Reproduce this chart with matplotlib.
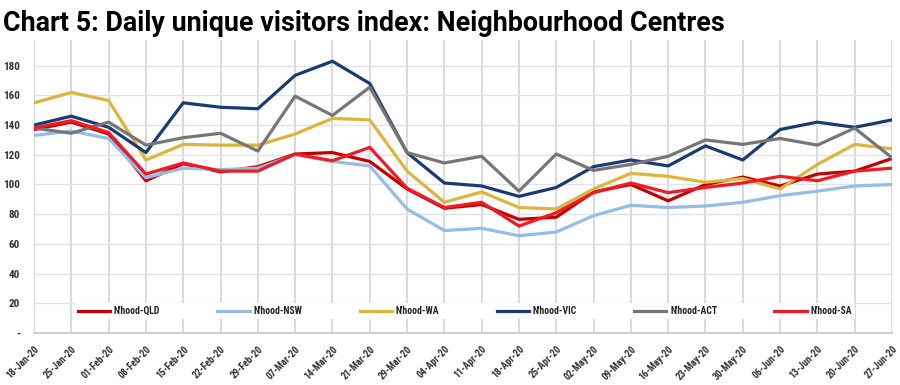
import matplotlib
matplotlib.use("Agg")
import matplotlib.pyplot as plt
from matplotlib import font_manager

dates = ["18-Jan-20", "25-Jan-20", "01-Feb-20", "08-Feb-20", "15-Feb-20", "22-Feb-20",
         "29-Feb-20", "07-Mar-20", "14-Mar-20", "21-Mar-20", "29-Mar-20", "04-Apr-20",
         "11-Apr-20", "18-Apr-20", "25-Apr-20", "02-May-20", "09-May-20", "16-May-20",
         "23-May-20", "30-May-20", "06-Jun-20", "13-Jun-20", "20-Jun-20", "27-Jun-20"]

qld = [137, 142, 134, 102.5, 114, 108.5, 112, 120.5, 121.5, 115.5, 97, 84, 86.5, 76.5,
       78, 95, 100, 89, 100, 105, 99, 107, 109, 117.5]
nsw = [133, 136, 131, 104.5, 111, 110, 111, 120, 115.5, 112.5, 83.5, 69, 70.5, 65.5,
       68, 79, 86, 84.5, 85.5, 88, 92.5, 95.5, 99, 100]
wa = [155, 162, 156.5, 116.5, 127, 126.5, 126.5, 134, 144.5, 143.5, 109, 88, 95, 84.5,
      83.5, 97, 107.5, 105.5, 101.5, 104, 97, 113.5, 127, 124]
vic = [140, 146, 138.5, 121.5, 155, 152, 151, 173.5, 183, 168, 121.5, 101, 99, 92,
       98, 112, 116.5, 112.5, 126, 116.5, 137, 142, 138.5, 143.5]
act = [138, 134.5, 142, 126.5, 131.5, 134.5, 122.5, 159.5, 146.5, 165.5, 121.5, 114.5, 119,
       95.5, 120.5, 109.5, 113.5, 119, 130, 127, 131, 126.5, 138, 118]
sa = [138, 143, 135, 107, 114.5, 109, 109, 120.5, 116, 125, 97.5, 84.5, 88, 72,
      81, 94.5, 101, 94.5, 98, 101, 105.5, 102.5, 109, 111]

series = [("N'hood-QLD", qld, "#C00000"),
          ("N'hood-NSW", nsw, "#95BDE6"),
          ("N'hood-WA", wa, "#DDB43C"),
          ("N'hood-VIC", vic, "#1B3A73"),
          ("N'hood-ACT", act, "#767676"),
          ("N'hood-SA", sa, "#EE1C25")]

yticks = [0, 20, 40, 60, 80, 100, 120, 140, 160, 180]
ytick_labels = ["-"] + [str(v) for v in yticks[1:]]
title = "Chart 5: Daily unique visitors index: Neighbourhood Centres"

names = {f.name for f in font_manager.fontManager.ttflist}
narrow = "Liberation Sans"
for cand in ["Liberation Sans Narrow", "Roboto Condensed", "Arial Narrow", "Roboto"]:
    if cand in names:
        narrow = cand
        break
title_font = "Roboto" if "Roboto" in names else narrow

fig = plt.figure(figsize=(9, 3.85), dpi=100)
ax = fig.add_axes([34 / 900, 1 - 333 / 385, (892 - 34) / 900, (333 - 40) / 385])

x = list(range(len(dates)))
for name, vals, col in series:
    ax.plot(x, vals, color=col, lw=2.3, label=name, solid_joinstyle="round", zorder=3)

ax.set_xlim(0, len(dates) - 1)
ax.set_ylim(0, 197.3)
ax.set_yticks(yticks)
ax.set_yticklabels(ytick_labels, fontsize=8, color="#333333", fontweight="bold", family=narrow)
ax.set_xticks(x)
ax.set_xticklabels(dates, rotation=45, ha="right", va="top", rotation_mode="anchor",
                   fontsize=7, color="#333333", family=narrow, fontweight="bold")
ax.tick_params(axis="y", length=0, pad=10)
ax.tick_params(axis="x", length=0, pad=8)

ax.grid(True, axis="x", color="#d9d9d9", lw=1.4, zorder=0)
ax.grid(True, axis="y", color="#dfe3ea", lw=1.0, zorder=0)
ax.set_axisbelow(True)
for s in ["top", "right", "left"]:
    ax.spines[s].set_visible(False)
ax.spines["bottom"].set_color("#c8c8c8")
ax.spines["bottom"].set_linewidth(1.2)

leg = fig.legend(loc="lower left", bbox_to_anchor=(75 / 900, 1 - 319 / 385, 780 / 900, 24 / 385),
                 ncol=6, mode="expand", frameon=True, fancybox=False, handlelength=3.3,
                 handletextpad=0.4, borderaxespad=0, borderpad=0.3,
                 prop={"family": narrow, "weight": "bold", "size": 7})
leg.get_frame().set_facecolor("white")
leg.get_frame().set_edgecolor("none")
leg.get_frame().set_alpha(1)
for t in leg.get_texts():
    t.set_color("#222222")
for h in leg.get_lines():
    h.set_linewidth(2.3)

t = fig.text(3 / 900, 1 - 31 / 385, title, fontsize=23, fontweight="bold",
             family=title_font, color="black", va="baseline", ha="left")
fig.canvas.draw()
w = t.get_window_extent().width
t.set_fontsize(23 * 726 / w)

fig.savefig("out.png", dpi=100, facecolor="white")
